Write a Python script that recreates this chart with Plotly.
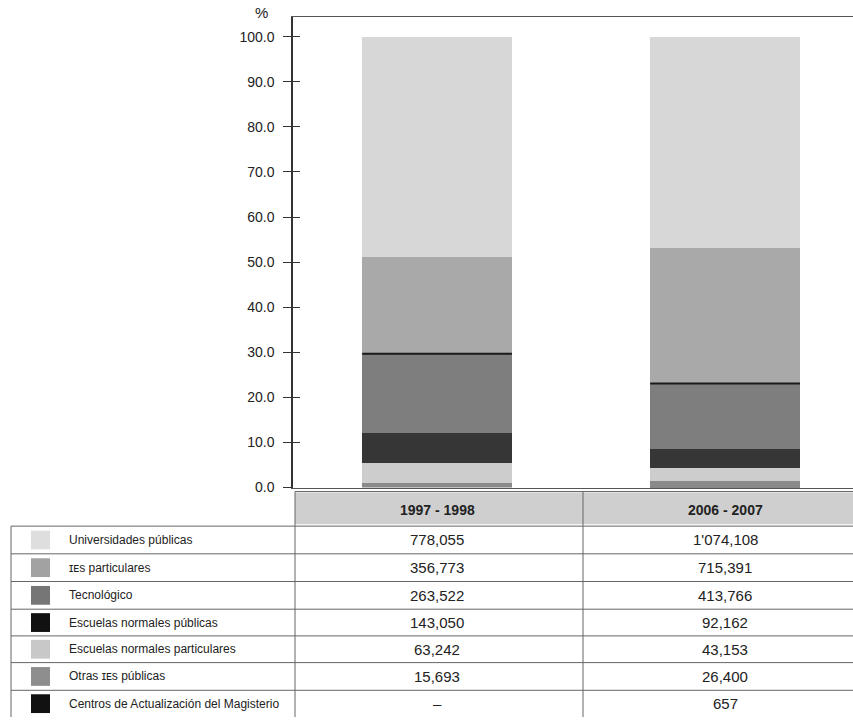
import plotly.graph_objects as go

# ---- data ----
periods = ["1997 - 1998", "2006 - 2007"]
series_names = [
    "Universidades públicas",
    "ɪᴇs particulares",
    "Tecnológico",
    "Escuelas normales públicas",
    "Escuelas normales particulares",
    "Otras ɪᴇs públicas",
    "Centros de Actualización del Magisterio",
]
# bar shares (%)
univ_pct = [48.8, 46.9]
ies_part_pct = [21.5, 30.0]
tecnologico_pct = [17.6, 14.6]
normales_pub_pct = [6.6, 4.2]
normales_part_pct = [4.5, 2.8]
otras_ies_pct = [1.0, 1.4]
centros_pct = [0.0, 0.1]
# table values (students)
univ_txt = ["778,055", "1'074,108"]
ies_part_txt = ["356,773", "715,391"]
tecnologico_txt = ["263,522", "413,766"]
normales_pub_txt = ["143,050", "92,162"]
normales_part_txt = ["63,242", "43,153"]
otras_ies_txt = ["15,693", "26,400"]
centros_txt = ["–", "657"]
y_ticks = [0, 10, 20, 30, 40, 50, 60, 70, 80, 90, 100]

values = [univ_pct, ies_part_pct, tecnologico_pct, normales_pub_pct,
          normales_part_pct, otras_ies_pct, centros_pct]
table_text = [univ_txt, ies_part_txt, tecnologico_txt, normales_pub_txt,
              normales_part_txt, otras_ies_txt, centros_txt]
colors = ["#d7d7d7", "#a9a9a9", "#7e7e7e", "#363636", "#cdcdcd", "#8a8a8a", "#151515"]
swatch_colors = ["#dedede", "#a2a2a2", "#767676", "#111111", "#c8c8c8", "#8e8e8e", "#111111"]

xpos = list(range(len(periods)))
bar_w = 0.52

W, H = 853, 725
def X(px):
    return px / W
def Y(py):
    return 1 - py / H

fig = go.Figure()
order = [6, 5, 4, 3, 2, 1, 0]  # bottom -> top
for i in order:
    fig.add_trace(go.Bar(x=xpos, y=values[i], name=series_names[i],
                         marker=dict(color=colors[i], line=dict(width=0)),
                         width=bar_w, showlegend=False))

# dark separator line on top of the "Tecnológico" segment
lx, ly = [], []
for j in xpos:
    top = sum(values[i][j] for i in [6, 5, 4, 3, 2])
    lx += [j - bar_w / 2, j + bar_w / 2, None]
    ly += [top, top, None]
fig.add_trace(go.Scatter(x=lx, y=ly, mode="lines", line=dict(color="#1a1a1a", width=2),
                         showlegend=False, hoverinfo="skip"))

font = "Liberation Sans, Arial, sans-serif"
fig.update_layout(
    width=W, height=H, barmode="stack",
    margin=dict(l=0, r=0, t=0, b=0),
    paper_bgcolor="white", plot_bgcolor="white",
    font=dict(family=font, size=12, color="#333333"),
    xaxis=dict(domain=[X(293), 1], range=[-0.5, 1.444], showticklabels=False,
               showline=True, linecolor="#555555", linewidth=1, mirror=True,
               ticks="", showgrid=False, zeroline=False),
    yaxis=dict(domain=[Y(493), Y(17)], range=[0, 104.4], tickvals=y_ticks,
               ticktext=[f"{v:.1f}" for v in y_ticks], ticks="outside",
               ticklen=8, tickcolor="#333333", tickwidth=1, showline=True,
               linecolor="#333333", linewidth=1.5, showgrid=False, zeroline=False,
               ticklabelstandoff=6,
               tickfont=dict(size=14, color="#222222")),
    yaxis2=dict(domain=[Y(493), Y(17)], range=[0, 104.4], overlaying="y", side="left",
                anchor="x", tickvals=y_ticks, showticklabels=False, ticks="inside",
                ticklen=7, tickcolor="#333333", tickwidth=1, showline=False,
                showgrid=False, zeroline=False),
)
# trace on yaxis2 so that its inner ticks are drawn
fig.add_trace(go.Scatter(x=[0], y=[50], yaxis="y2", mode="markers",
                         marker=dict(opacity=0), showlegend=False, hoverinfo="skip"))

shapes = []
ann = []
ann.append(dict(x=X(261), y=Y(13), xref="paper", yref="paper", text="%",
                showarrow=False, xanchor="center", yanchor="middle",
                font=dict(size=15, color="#222222")))

# header background
shapes.append(dict(type="rect", xref="paper", yref="paper", x0=X(295), x1=X(853),
                   y0=Y(530), y1=Y(498), fillcolor="#cfcfcf", line=dict(width=0)))
for j in xpos:
    ann.append(dict(x=j, xref="x", y=Y(516), yref="paper", text=f"<b>{periods[j]}</b>",
                    showarrow=False, yanchor="middle",
                    font=dict(size=14, color="#222222",
                              family="Liberation Sans Narrow, Liberation Sans, Arial")))

row_bounds = [532, 560, 588, 616, 643, 670, 698, 725]
lc = "#666666"
shapes.append(dict(type="line", xref="paper", yref="paper", x0=X(295), x1=X(853),
                   y0=Y(497), y1=Y(497), line=dict(color=lc, width=1)))
for b in row_bounds[:-1]:
    shapes.append(dict(type="line", xref="paper", yref="paper", x0=X(11), x1=X(853),
                       y0=Y(b), y1=Y(b), line=dict(color=lc, width=1)))
shapes.append(dict(type="line", xref="paper", yref="paper", x0=X(11), x1=X(11),
                   y0=Y(532), y1=Y(725), line=dict(color=lc, width=1)))
for vx in (295, 583):
    shapes.append(dict(type="line", xref="paper", yref="paper", x0=X(vx), x1=X(vx),
                       y0=Y(497), y1=Y(725), line=dict(color=lc, width=1)))

for r in range(len(series_names)):
    yc = (row_bounds[r] + row_bounds[r + 1]) / 2
    shapes.append(dict(type="rect", xref="paper", yref="paper", x0=X(31), x1=X(50),
                       y0=Y(yc + 9.5), y1=Y(yc - 9.5), fillcolor=swatch_colors[r],
                       line=dict(width=0)))
    ann.append(dict(x=X(67), y=Y(yc), xref="paper", yref="paper",
                    text=series_names[r], showarrow=False, xanchor="left",
                    yanchor="middle", font=dict(size=12, color="#222222")))
    for j in xpos:
        ann.append(dict(x=j, xref="x", y=Y(yc), yref="paper", text=table_text[r][j],
                        showarrow=False, yanchor="middle",
                        font=dict(size=15, color="#222222",
                                  family="Liberation Sans Narrow, Liberation Sans, Arial")))

fig.update_layout(shapes=shapes, annotations=ann)
fig.write_html("out.html")
